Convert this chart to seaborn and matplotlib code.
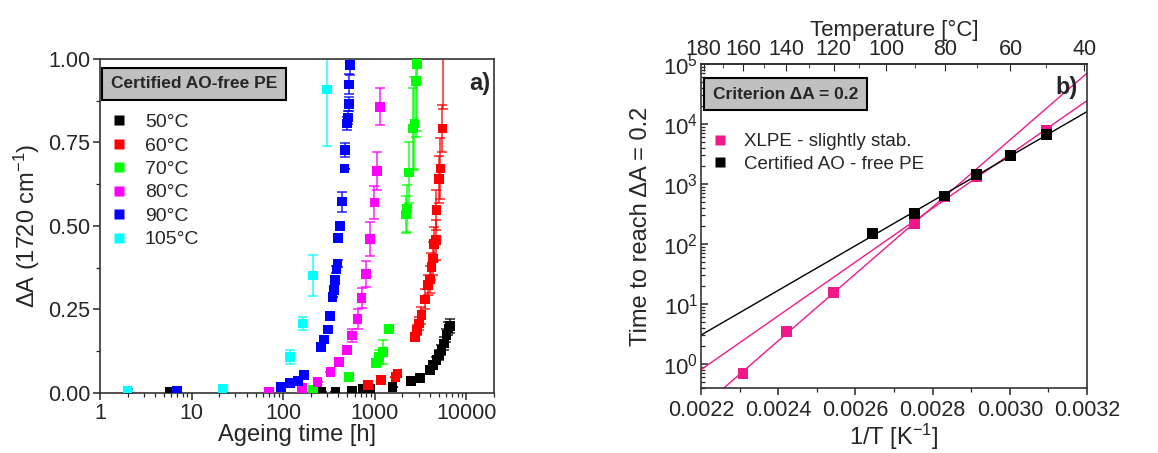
import numpy as np
import pandas as pd
import seaborn as sns
import matplotlib.pyplot as plt
from matplotlib.lines import Line2D
from matplotlib.ticker import FixedLocator, MultipleLocator, LogLocator, NullFormatter

sns.set_style("ticks")
plt.rcParams["font.family"] = ["Liberation Sans", "DejaVu Sans"]
plt.rcParams["mathtext.default"] = "regular"

# --- panel a) : dA(1720 cm-1) vs ageing time -------------------------------
t_50 = [5.8, 262, 372, 561, 747, 881, 1560, 2470, 3096, 3981, 4330, 4707, 5035, 5334, 5660, 6050, 6370, 6580]
dA_50 = [0.004, 0.004, 0.004, 0.006, 0.011, 0.013, 0.018, 0.036, 0.045, 0.068, 0.083, 0.098, 0.113, 0.128, 0.148, 0.173, 0.193, 0.2]
err_50 = [0, 0, 0, 0, 0, 0, 0, 0, 0, 0.005, 0.01, 0.01, 0.015, 0.015, 0.02, 0.02, 0.02, 0.02]

t_60 = [846, 1163, 1679, 1766, 2731, 2872, 3047, 3230, 3510, 3818, 3981, 4150, 4330, 4440, 4625, 4707, 5035, 5200, 5470, 5600]
dA_60 = [0.023, 0.038, 0.048, 0.058, 0.168, 0.188, 0.208, 0.233, 0.28, 0.323, 0.34, 0.378, 0.403, 0.446, 0.458, 0.547, 0.64, 0.672, 0.792, 1.15]
err_60 = [0, 0, 0, 0, 0.01, 0.015, 0.02, 0.025, 0.03, 0.03, 0.04, 0.04, 0.05, 0.05, 0.06, 0.06, 0.07, 0.09, 0.07, 0.3]

t_70 = [212, 525, 1026, 1107, 1222, 1421, 2180, 2254, 2371, 2620, 2710, 2800, 2872]
dA_70 = [0.01, 0.048, 0.09, 0.108, 0.123, 0.192, 0.534, 0.552, 0.66, 0.792, 0.807, 0.935, 0.985]
err_70 = [0, 0, 0, 0.02, 0.035, 0, 0.055, 0.07, 0.09, 0.12, 0.14, 0.17, 0.2]

t_80 = [70, 160, 237, 328, 405, 495, 566, 648, 716, 804, 881, 991, 1052, 1143]
dA_80 = [0.004, 0.014, 0.033, 0.062, 0.093, 0.128, 0.172, 0.222, 0.284, 0.356, 0.461, 0.57, 0.665, 0.857]
err_80 = [0, 0.01, 0, 0, 0, 0.01, 0.02, 0.03, 0.03, 0.04, 0.05, 0.05, 0.057, 0.055]

t_90 = [2.0, 6.9, 94, 118, 146, 168, 258, 278, 309, 326, 345, 360, 369, 380, 392, 398, 415, 440, 467, 475, 495, 508, 520, 525, 538]
dA_90 = [0.006, 0.006, 0.018, 0.03, 0.036, 0.054, 0.138, 0.16, 0.19, 0.23, 0.288, 0.308, 0.338, 0.37, 0.388, 0.464, 0.50, 0.573, 0.672, 0.727, 0.807, 0.825, 0.865, 0.924, 0.982]
err_90 = [0.005, 0, 0, 0, 0, 0, 0, 0, 0, 0, 0, 0, 0, 0.01, 0.01, 0.01, 0.01, 0.03, 0, 0.02, 0.02, 0.02, 0.02, 0.03, 0.03]

t_105 = [2.0, 21.8, 118, 163, 211, 302]
dA_105 = [0.006, 0.011, 0.108, 0.208, 0.352, 0.909]
err_105 = [0.003, 0.005, 0.02, 0.02, 0.062, 0.17]

series_labels = ["50°C", "60°C", "70°C", "80°C", "90°C", "105°C"]
series_colors = ["#000000", "#ff0000", "#00ff00", "#ff00ff", "#0000ff", "#00ffff"]

# --- panel b) : Arrhenius plot -----------------------------------------------
temp_xlpe = [160, 140, 120, 90, 80, 70, 50]
time_xlpe = [0.70, 3.46, 15.8, 221, 615, 1320, 7940]
temp_ao = [105, 90, 80, 70, 60, 50]
time_ao = [150, 325, 630, 1450, 3000, 6600]
# points used for the two XLPE fits
fit_hot = [160, 140, 120, 90]
fit_cold = [90, 80, 70, 50]
top_ticks = [180, 160, 140, 120, 100, 80, 60, 40]

fig = plt.figure(figsize=(11.58, 4.53), dpi=100)
ax1 = fig.add_axes([0.0864, 0.1325, 0.3402, 0.7373])
ax2 = fig.add_axes([0.6054, 0.1435, 0.3333, 0.7152])

frames = []
for lab, t, d in zip(series_labels, [t_50, t_60, t_70, t_80, t_90, t_105],
                     [dA_50, dA_60, dA_70, dA_80, dA_90, dA_105]):
    frames.append(pd.DataFrame({"t": t, "dA": d, "T": lab}))
df_a = pd.concat(frames, ignore_index=True)

for lab, col, t, d, e in zip(series_labels, series_colors,
                             [t_50, t_60, t_70, t_80, t_90, t_105],
                             [dA_50, dA_60, dA_70, dA_80, dA_90, dA_105],
                             [err_50, err_60, err_70, err_80, err_90, err_105]):
    ax1.errorbar(t, d, yerr=e, fmt="none", ecolor=col, elinewidth=1.2,
                 capsize=3.5, capthick=1.2, alpha=0.8, zorder=2)

sns.scatterplot(data=df_a, x="t", y="dA", hue="T", palette=series_colors,
                hue_order=series_labels, marker="s", s=48, linewidth=0,
                legend=False, ax=ax1, zorder=3)

ax1.set_xscale("log")
ax1.set_xlim(1, 20000)
ax1.set_ylim(0, 1)
ax1.xaxis.set_major_locator(FixedLocator([1, 10, 100, 1000, 10000]))
ax1.xaxis.set_major_formatter(plt.FuncFormatter(lambda v, p: f"{v:.0f}"))
ax1.xaxis.set_minor_locator(LogLocator(base=10, subs=np.arange(2, 10), numticks=20))
ax1.xaxis.set_minor_formatter(NullFormatter())
ax1.yaxis.set_major_locator(FixedLocator([0, 0.25, 0.5, 0.75, 1.0]))
ax1.yaxis.set_major_formatter(plt.FuncFormatter(lambda v, p: f"{v:.2f}"))
ax1.yaxis.set_minor_locator(FixedLocator([0.125, 0.375, 0.625, 0.875]))
ax1.set_xlabel("Ageing time [h]", fontsize=17, labelpad=0)
ax1.set_ylabel("ΔA (1720 cm$^{-1}$)", fontsize=17, labelpad=4)

ax1.text(0.027, 0.948, "Certified AO-free PE", transform=ax1.transAxes,
         fontsize=12.5, fontweight="bold", va="top", ha="left",
         bbox=dict(boxstyle="square,pad=0.5", fc="#c0c0c0", ec="black", lw=1.5))
ax1.text(0.965, 0.928, "a)", transform=ax1.transAxes, fontsize=17,
         fontweight="bold", ha="center", va="center")

handles = [Line2D([], [], ls="none", marker="s", ms=7.5, mec="none", mfc=c)
           for c in series_colors]
ax1.legend(handles, series_labels, loc="upper left", bbox_to_anchor=(0.0, 0.86),
           frameon=False, fontsize=14, handlelength=1.2, handletextpad=0.7,
           labelspacing=0.3, borderaxespad=0)

# panel b
x_xlpe = [1 / (T + 273.15) for T in temp_xlpe]
x_ao = [1 / (T + 273.15) for T in temp_ao]
df_b = pd.DataFrame({
    "invT": x_xlpe + x_ao,
    "time": time_xlpe + time_ao,
    "mat": ["XLPE - slightly stab."] * len(x_xlpe) + ["Certified AO - free PE"] * len(x_ao),
})
pink = "#f0198a"

xs = np.array([0.0022, 0.0032])


def fit_line(temps, times):
    xv = [1 / (T + 273.15) for T in temps]
    return np.polyfit(xv, np.log10(times), 1)


xl_map = dict(zip(temp_xlpe, time_xlpe))
p_hot = fit_line(fit_hot, [xl_map[T] for T in fit_hot])
p_cold = fit_line(fit_cold, [xl_map[T] for T in fit_cold])
p_ao = fit_line(temp_ao, time_ao)
ax2.plot(xs, 10 ** np.polyval(p_hot, xs), color=pink, lw=1, zorder=2)
ax2.plot(xs, 10 ** np.polyval(p_cold, xs), color=pink, lw=1, zorder=2)
ax2.plot(xs, 10 ** np.polyval(p_ao, xs), color="black", lw=1, zorder=2)

sns.scatterplot(data=df_b, x="invT", y="time", hue="mat",
                palette=[pink, "black"], marker="s", s=60, linewidth=0,
                legend=False, ax=ax2, zorder=3)

ax2.set_yscale("log")
ax2.set_xlim(0.0022, 0.0032)
ax2.set_ylim(0.4, 1e5)
ax2.xaxis.set_major_locator(MultipleLocator(0.0002))
ax2.xaxis.set_minor_locator(MultipleLocator(0.0001))
ax2.xaxis.set_major_formatter(plt.FuncFormatter(lambda v, p: f"{v:.4f}"))
ax2.yaxis.set_major_locator(LogLocator(base=10, numticks=10))
ax2.yaxis.set_minor_locator(LogLocator(base=10, subs=np.arange(2, 10), numticks=20))
ax2.yaxis.set_minor_formatter(NullFormatter())
ax2.set_xlabel("1/T [K$^{-1}$]", fontsize=17, labelpad=0)
ax2.set_ylabel("Time to reach ΔA = 0.2", fontsize=17, labelpad=8)

top = ax2.secondary_xaxis("top", functions=(lambda x: 1 / np.asarray(x) - 273.15,
                                            lambda c: 1 / (np.asarray(c) + 273.15)))
top.set_xticks(top_ticks)
top.xaxis.set_minor_locator(FixedLocator(np.arange(40, 190, 10)))
top.set_xlabel("Temperature [°C]", fontsize=16, labelpad=2)

ax2.text(0.03, 0.93, "Criterion ΔA = 0.2", transform=ax2.transAxes,
         fontsize=12.5, fontweight="bold", va="top", ha="left",
         bbox=dict(boxstyle="square,pad=0.5", fc="#c0c0c0", ec="black", lw=1.5))
ax2.text(0.948, 0.926, "b)", transform=ax2.transAxes, fontsize=17,
         fontweight="bold", ha="center", va="center")
h2 = [Line2D([], [], ls="none", marker="s", ms=7.5, mec="none", mfc=c) for c in [pink, "black"]]
ax2.legend(h2, ["XLPE - slightly stab.", "Certified AO - free PE"], loc="upper left",
           bbox_to_anchor=(0.0, 0.81), frameon=False, fontsize=13.5,
           handlelength=1.2, handletextpad=0.7, labelspacing=0.3, borderaxespad=0)

for ax in (ax1, ax2):
    for sp in ax.spines.values():
        sp.set_visible(True)
        sp.set_linewidth(1.2)
        sp.set_color("#333333")
    ax.tick_params(which="major", labelsize=15.5, length=5, width=1.1, pad=2)
    ax.tick_params(which="minor", length=3, width=0.9)
ax2.tick_params(axis="y", which="both", direction="in")
ax2.tick_params(axis="y", which="major", labelsize=16)
ax2.tick_params(axis="x", which="major", pad=4)
top.tick_params(which="both", direction="in", labelsize=15.5, pad=3, length=5)
top.tick_params(which="minor", length=3)
top.spines["top"].set_linewidth(1.2)

fig.savefig("out.png", dpi=100)
